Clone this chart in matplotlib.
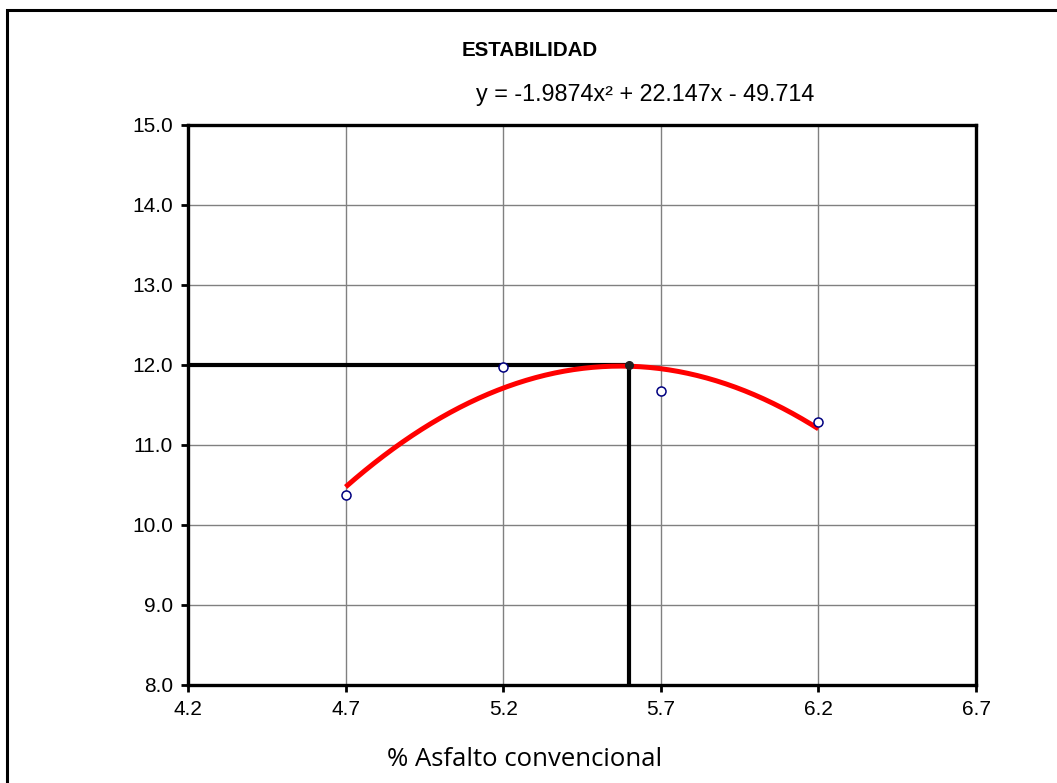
import numpy as np
import matplotlib
matplotlib.use("Agg")
import matplotlib.pyplot as plt
from matplotlib.patches import Rectangle

# measured points
asfalto = [4.7, 5.2, 5.7, 6.2]
estabilidad = [10.38, 11.98, 11.68, 11.29]

# quadratic trend coefficients (from the chart label)
coef = [-1.9874, 22.147, -49.714]

# optimum read on the chart
opt_x = 5.6
opt_y = 12.0

xticks = [4.2, 4.7, 5.2, 5.7, 6.2, 6.7]
yticks = [8.0, 9.0, 10.0, 11.0, 12.0, 13.0, 14.0, 15.0]

plt.rcParams['font.family'] = ['Liberation Sans', 'DejaVu Sans']

fig = plt.figure(figsize=(10.57, 7.83), dpi=100)
ax = fig.add_axes([0.1779, 0.1252, 0.7455, 0.7152])

# outer frame of the chart object
fig.patches.append(Rectangle((7 / 1057, -0.2), 1.2, 1.2 - 10 / 783, transform=fig.transFigure,
                             fill=False, edgecolor='black', linewidth=2.2))

ax.set_xlim(4.2, 6.7)
ax.set_ylim(8.0, 15.0)
ax.set_xticks(xticks)
ax.set_yticks(yticks)
ax.set_xticklabels([f"{v:.1f}" for v in xticks], fontsize=15)
ax.set_yticklabels([f"{v:.1f}" for v in yticks], fontsize=15)
ax.grid(True, color='#808080', linewidth=1.0)
ax.set_axisbelow(True)
for s in ax.spines.values():
    s.set_linewidth(2.4)
ax.tick_params(direction='out', length=5, width=2, pad=6)

# optimum guide lines
ax.plot([4.2, opt_x], [opt_y, opt_y], color='black', linewidth=3.0, zorder=3)
ax.plot([opt_x, opt_x], [8.0, opt_y], color='black', linewidth=3.0, zorder=3)

xs = np.linspace(min(asfalto), max(asfalto), 200)
ax.plot(xs, np.polyval(coef, xs), color='red', linewidth=3.6, zorder=4, solid_capstyle='butt')

ax.plot(asfalto, estabilidad, linestyle='none', marker='o', markersize=6.5,
        markerfacecolor='white', markeredgecolor='#000080', markeredgewidth=1.1, zorder=5)
ax.plot([opt_x], [opt_y], linestyle='none', marker='o', markersize=5.5,
        color='#202020', zorder=5)

fig.text(530 / 1057, 1 - 50 / 783, "ESTABILIDAD", fontsize=14.8, fontweight='bold',
         ha='center', va='center')
fig.text(645 / 1057, 1 - 94 / 783, "y = -1.9874x² + 22.147x - 49.714", fontsize=16.8,
         ha='center', va='center')
fig.text(525 / 1057, 1 - 760 / 783, "% Asfalto convencional", fontsize=18.5,
         family=['Open Sans', 'DejaVu Sans'], ha='center', va='center')

fig.savefig("out.png", dpi=100)
